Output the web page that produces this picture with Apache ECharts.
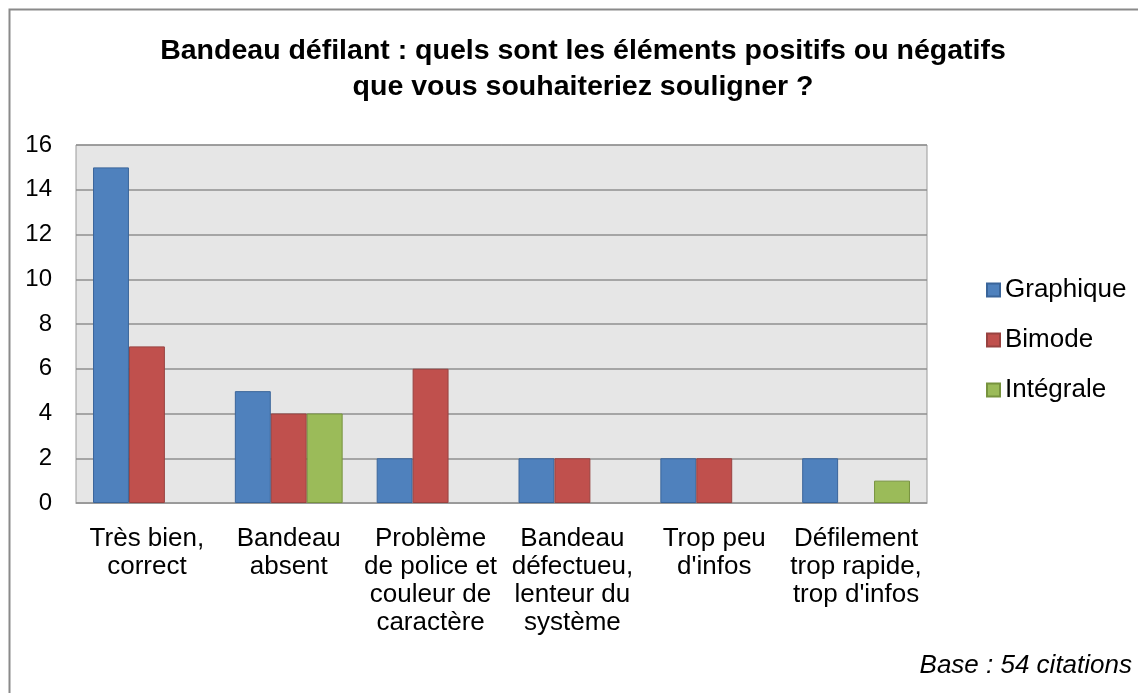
<!DOCTYPE html>
<html>
<head>
<meta charset="utf-8">
<script src="https://cdn.jsdelivr.net/npm/echarts@6/dist/echarts.min.js"></script>
<style>
  html, body { margin: 0; padding: 0; background: #fff; }
  #chart { width: 1138px; height: 693px; }
</style>
</head>
<body>
<div id="chart"></div>
<script>
// Categories and counts per access mode
const categories = [
  'Très bien,\ncorrect',
  'Bandeau\nabsent',
  'Problème\nde police et\ncouleur de\ncaractère',
  'Bandeau\ndéfectueu,\nlenteur du\nsystème',
  'Trop peu\nd\'infos',
  'Défilement\ntrop rapide,\ntrop d\'infos'
];
const graphique = [15, 5, 2, 2, 2, 2];
const bimode    = [7, 4, 6, 2, 2, 0];
const integrale = [0, 4, 0, 0, 0, 1];
const yTicks = { min: 0, max: 16, interval: 2 };

const FONT = '"Liberation Sans", Arial, sans-serif';

function barSeries(name, data, fill, edge) {
  return {
    name: name,
    type: 'bar',
    data: data.map(v => (v === 0 ? null : v)),
    barGap: '0%',
    barCategoryGap: '24%',
    itemStyle: { color: fill, borderColor: edge, borderWidth: 1 }
  };
}

const chart = echarts.init(document.getElementById('chart'), null, { renderer: 'canvas' });
chart.setOption({
  animation: false,
  backgroundColor: '#ffffff',
  textStyle: { fontFamily: FONT },
  title: {
    text: 'Bandeau défilant : quels sont les éléments positifs ou négatifs\nque vous souhaiteriez souligner ?',
    left: 578,
    top: 28,
    textAlign: 'center',
    textStyle: { fontFamily: FONT, fontSize: 28.5, fontWeight: 'bold', color: '#000', lineHeight: 36 }
  },
  legend: {
    orient: 'vertical',
    left: 986,
    top: 277,
    padding: 0,
    itemWidth: 13,
    itemHeight: 13,
    itemGap: 24,
    icon: 'rect',
    textStyle: { fontFamily: FONT, fontSize: 26, color: '#000' },
    data: ['Graphique', 'Bimode', 'Intégrale']
  },
  grid: { left: 76, top: 145, right: 211, bottom: 190, show: true, backgroundColor: '#e6e6e6', borderColor: '#9a9a9a', borderWidth: 1 },
  xAxis: {
    type: 'category',
    data: categories,
    axisLine: { show: true, lineStyle: { color: '#9a9a9a', width: 1 } },
    axisTick: { show: false },
    axisLabel: { fontFamily: FONT, fontSize: 26, color: '#000', lineHeight: 28, margin: 22, interval: 0 }
  },
  yAxis: {
    type: 'value',
    min: yTicks.min,
    max: yTicks.max,
    interval: yTicks.interval,
    axisLine: { show: false },
    axisTick: { show: false },
    splitLine: { lineStyle: { color: '#8f8f8f', width: 1.5 } },
    axisLabel: { fontFamily: FONT, fontSize: 24, color: '#000', margin: 24 }
  },
  series: [
    barSeries('Graphique', graphique, '#4f81bd', '#3a659a'),
    barSeries('Bimode', bimode, '#c0504d', '#984240'),
    barSeries('Intégrale', integrale, '#9bbb59', '#77933e')
  ],
  graphic: [
    {
      type: 'rect',
      silent: true,
      shape: { x: 9.5, y: 9.5, width: 1200, height: 800 },
      style: { fill: 'none', stroke: '#8a8a8a', lineWidth: 2 }
    },
    {
      type: 'text',
      right: 6,
      top: 653,
      style: { text: 'Base : 54 citations', fontFamily: FONT, fontSize: 26, fontStyle: 'italic', fill: '#000' }
    }
  ]
});
</script>
</body>
</html>
